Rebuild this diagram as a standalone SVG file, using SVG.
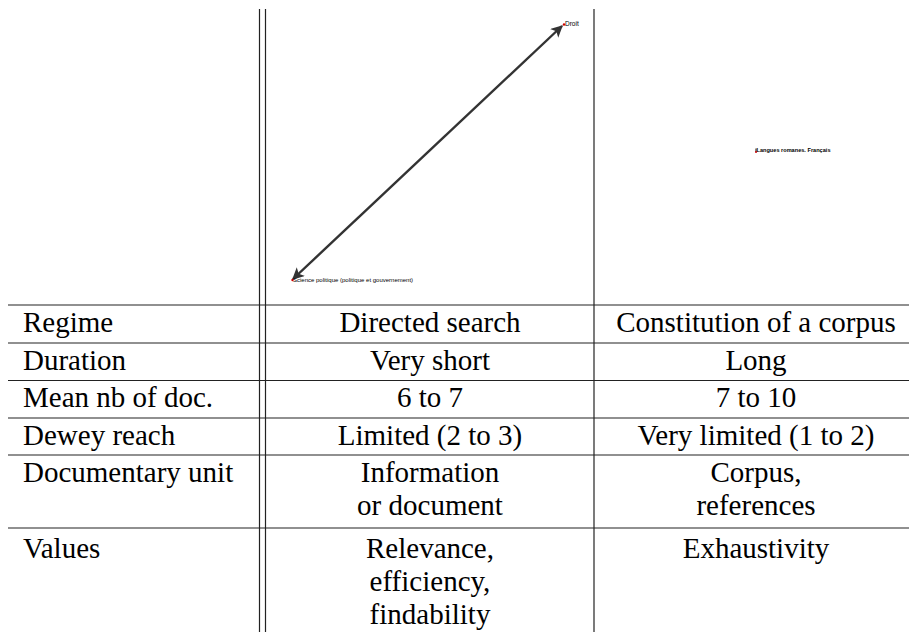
<svg xmlns="http://www.w3.org/2000/svg" width="909" height="632" viewBox="0 0 909 632">
<defs>
<style>
.cell{font-family:"Liberation Serif","Times New Roman",serif;font-size:29px;fill:#000}
.c{text-anchor:middle}
.rule{stroke:#222;stroke-width:1.2;fill:none}
.lbl{font-family:"Liberation Sans",Arial,sans-serif;font-size:6px;fill:#000}
.dot{fill:#c00}
.edge{stroke:#333;stroke-width:2.4;fill:none}
</style>
<marker id="ah" viewBox="0 0 10 10" refX="9" refY="5" markerWidth="5" markerHeight="5" orient="auto-start-reverse" markerUnits="strokeWidth">
<path d="M0,0 L10,5 L0,10 L2.5,5 z" fill="#333"/>
</marker>
</defs>
<rect width="909" height="632" fill="#fff"/>
<g id="table-rules">
<line class="rule" x1="259.5" y1="9" x2="259.5" y2="632"/>
<line class="rule" x1="265.5" y1="9" x2="265.5" y2="632"/>
<line class="rule" x1="594" y1="9" x2="594" y2="632"/>
<line class="rule" x1="8" y1="305" x2="909" y2="305"/>
<line class="rule" x1="8" y1="343" x2="909" y2="343"/>
<line class="rule" x1="8" y1="380.5" x2="909" y2="380.5"/>
<line class="rule" x1="8" y1="418" x2="909" y2="418"/>
<line class="rule" x1="8" y1="455" x2="909" y2="455"/>
<line class="rule" x1="8" y1="528" x2="909" y2="528"/>
</g>
<g id="connectors">
<line class="edge" x1="293" y1="279" x2="562" y2="26" marker-start="url(#ah)" marker-end="url(#ah)"/>
</g>
<g id="node-droit">
<circle class="dot" cx="564" cy="24.5" r="1.2"/>
<text class="lbl" x="565" y="26" style="font-size:6.5px">Droit</text>
</g>
<g id="node-science-politique">
<circle class="dot" cx="292.5" cy="280" r="1.2"/>
<text class="lbl" x="293" y="282">Science politique (politique et gouvernement)</text>
</g>
<g id="node-langues-romanes">
<line x1="756" y1="148.5" x2="756" y2="152" stroke="#111" stroke-width="1"/>
<circle class="dot" cx="756" cy="152" r="1"/>
<text class="lbl" x="756.5" y="151.5" style="font-weight:bold;font-size:5.6px">Langues romanes. Français</text>
</g>
<g id="row-regime">
<text class="cell" x="23" y="332">Regime</text>
<text class="cell c" x="430" y="332">Directed search</text>
<text class="cell c" x="756" y="332">Constitution of a corpus</text>
</g>
<g id="row-duration">
<text class="cell" x="23" y="369.5">Duration</text>
<text class="cell c" x="430" y="369.5">Very short</text>
<text class="cell c" x="756" y="369.5">Long</text>
</g>
<g id="row-mean">
<text class="cell" x="23" y="407">Mean nb of doc.</text>
<text class="cell c" x="430" y="407">6 to 7</text>
<text class="cell c" x="756" y="407">7 to 10</text>
</g>
<g id="row-dewey">
<text class="cell" x="23" y="444.5">Dewey reach</text>
<text class="cell c" x="430" y="444.5">Limited (2 to 3)</text>
<text class="cell c" x="756" y="444.5">Very limited (1 to 2)</text>
</g>
<g id="row-unit">
<text class="cell" x="23" y="482">Documentary unit</text>
<text class="cell c" x="430" y="482">Information</text>
<text class="cell c" x="430" y="515">or document</text>
<text class="cell c" x="756" y="482">Corpus,</text>
<text class="cell c" x="756" y="515">references</text>
</g>
<g id="row-values">
<text class="cell" x="23" y="558">Values</text>
<text class="cell c" x="430" y="558">Relevance,</text>
<text class="cell c" x="430" y="591">efficiency,</text>
<text class="cell c" x="430" y="624">findability</text>
<text class="cell c" x="756" y="558">Exhaustivity</text>
</g>
</svg>
